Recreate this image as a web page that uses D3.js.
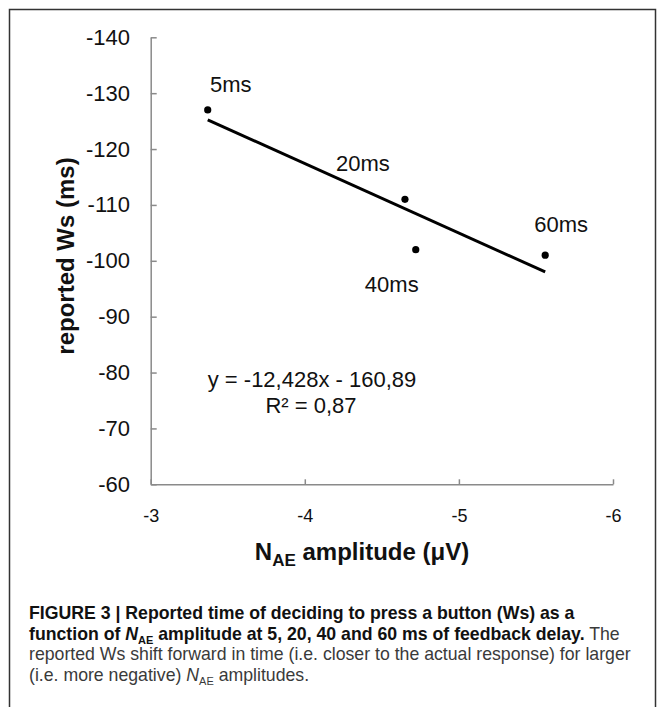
<!DOCTYPE html>
<html>
<head>
<meta charset="utf-8">
<script src="https://d3js.org/d3.v7.min.js"></script>
<style>
  body { margin: 0; background: #fff; }
  text { font-family: 'Liberation Sans', Arial, sans-serif; }
</style>
</head>
<body>
<div id="chartContainer"></div>
<script>
// values
const delays = ['5ms', '20ms', '40ms', '60ms'];
const amplitudes = [-3.37, -4.65, -4.72, -5.56];
const reportedWs = [-127, -111, -102, -101];

const xTicks = [-3, -4, -5, -6];
const yTicks = [-140, -130, -120, -110, -100, -90, -80, -70, -60];

const equationText = 'y = -12,428x - 160,89';
const rSquaredText = 'R\u00b2 = 0,87';

// label nudges in pixels (hand placed in the original)
const labelNudge = [[23, -18], [-42, -28], [-24, 42], [16, -23]];

function linearFit(xs, ys) {
  const mx = d3.mean(xs);
  const my = d3.mean(ys);
  let sxy = 0;
  let sxx = 0;
  xs.forEach((x, i) => {
    sxy += (x - mx) * (ys[i] - my);
    sxx += (x - mx) * (x - mx);
  });
  const slope = sxy / sxx;
  return {slope: slope, intercept: my - slope * mx};
}

// plain hyphen, like the original, not d3's unicode minus
function tickLabel(d) {
  return String(d);
}

function createChart() {
  const width = 657;
  const height = 707;

  const svg = d3.select('#chartContainer')
      .append('svg')
      .attr('width', width)
      .attr('height', height);

  // figure frame
  svg.append('rect')
      .attr('x', 9.5)
      .attr('y', 9.5)
      .attr('width', 646)
      .attr('height', 720)
      .attr('fill', 'none')
      .attr('stroke', '#333')
      .attr('stroke-width', 1.5);

  const x = d3.scaleLinear()
      .domain([-3, -6])
      .range([150.7, 613]);

  const y = d3.scaleLinear()
      .domain([-140, -60])
      .range([37.3, 484.3]);

  const axisColor = '#8a8a8a';

  // y axis, ticks pointing inwards
  const yAxis = svg.append('g')
      .attr('transform', 'translate(' + x(-3) + ',0)')
      .call(d3.axisLeft(y)
          .tickValues(yTicks)
          .tickSizeInner(-6)
          .tickSizeOuter(0)
          .tickPadding(20.7)
          .tickFormat(tickLabel));

  yAxis.selectAll('text')
      .attr('font-size', 22)
      .attr('fill', '#111');

  const xAxis = svg.append('g')
      .attr('transform', 'translate(0,' + y(-60) + ')')
      .call(d3.axisBottom(x)
          .tickValues(xTicks)
          .tickSizeInner(-5)
          .tickSizeOuter(0)
          .tickPadding(24.6)
          .tickFormat(tickLabel));

  xAxis.selectAll('text')
      .attr('font-size', 18)
      .attr('fill', '#111');

  svg.selectAll('.domain, .tick line')
      .attr('stroke', axisColor)
      .attr('stroke-width', 1.5);

  // trend line over the range of the points
  const fit = linearFit(amplitudes, reportedWs);
  const xExtent = d3.extent(amplitudes);
  svg.append('line')
      .attr('x1', x(xExtent[1]))
      .attr('y1', y(fit.slope * xExtent[1] + fit.intercept))
      .attr('x2', x(xExtent[0]))
      .attr('y2', y(fit.slope * xExtent[0] + fit.intercept))
      .attr('stroke', '#000')
      .attr('stroke-width', 3);

  svg.append('g')
      .selectAll('circle')
      .data(amplitudes)
      .join('circle')
      .attr('cx', d => x(d))
      .attr('cy', (d, i) => y(reportedWs[i]))
      .attr('r', 3.6)
      .attr('fill', '#000');

  svg.append('g')
      .selectAll('text')
      .data(delays)
      .join('text')
      .attr('x', (d, i) => x(amplitudes[i]) + labelNudge[i][0])
      .attr('y', (d, i) => y(reportedWs[i]) + labelNudge[i][1])
      .attr('text-anchor', 'middle')
      .attr('font-size', 22)
      .attr('fill', '#111')
      .text(d => d);

  // regression annotation
  svg.append('text')
      .attr('x', 312)
      .attr('y', 387.3)
      .attr('text-anchor', 'middle')
      .attr('font-size', 22)
      .attr('fill', '#111')
      .text(equationText);

  svg.append('text')
      .attr('x', 311)
      .attr('y', 413.3)
      .attr('text-anchor', 'middle')
      .attr('font-size', 22)
      .attr('fill', '#111')
      .text(rSquaredText);

  // axis titles
  const xTitle = svg.append('text')
      .attr('x', 362)
      .attr('y', 560)
      .attr('text-anchor', 'middle')
      .attr('font-size', 24)
      .attr('font-weight', 'bold')
      .attr('fill', '#111');
  xTitle.append('tspan').text('N');
  xTitle.append('tspan').attr('font-size', 17).attr('dy', 6).text('AE');
  xTitle.append('tspan').attr('dy', -6).text(' amplitude (\u03bcV)');

  svg.append('text')
      .attr('transform', 'translate(74,256) rotate(-90)')
      .attr('text-anchor', 'middle')
      .attr('font-size', 24)
      .attr('font-weight', 'bold')
      .attr('fill', '#111')
      .text('reported Ws (ms)');

  // caption
  const capX = 29;
  const capSize = 17.7;
  const bold = '#111';
  const plain = '#3a3a3a';

  svg.append('text')
      .attr('x', capX)
      .attr('y', 619)
      .attr('font-size', capSize)
      .attr('font-weight', 'bold')
      .attr('fill', bold)
      .text('FIGURE 3 | Reported time of deciding to press a button (Ws) as a');

  const line2 = svg.append('text')
      .attr('x', capX)
      .attr('y', 639.5)
      .attr('font-size', capSize)
      .attr('font-weight', 'bold')
      .attr('fill', bold);
  line2.append('tspan').text('function of ');
  line2.append('tspan').attr('font-style', 'italic').text('N');
  line2.append('tspan').attr('font-size', 11).attr('dy', 4).text('AE');
  line2.append('tspan').attr('dy', -4).text(' amplitude at 5, 20, 40 and 60 ms of feedback delay.');
  line2.append('tspan').attr('font-weight', 'normal').attr('fill', plain).text(' The');

  svg.append('text')
      .attr('x', capX)
      .attr('y', 660)
      .attr('font-size', capSize)
      .attr('fill', plain)
      .text('reported Ws shift forward in time (i.e. closer to the actual response) for larger');

  const line4 = svg.append('text')
      .attr('x', capX)
      .attr('y', 680.5)
      .attr('font-size', capSize)
      .attr('fill', plain);
  line4.append('tspan').text('(i.e. more negative) ');
  line4.append('tspan').attr('font-style', 'italic').text('N');
  line4.append('tspan').attr('font-size', 11).attr('dy', 4).text('AE');
  line4.append('tspan').attr('dy', -4).text(' amplitudes.');
}

createChart();
</script>
</body>
</html>
